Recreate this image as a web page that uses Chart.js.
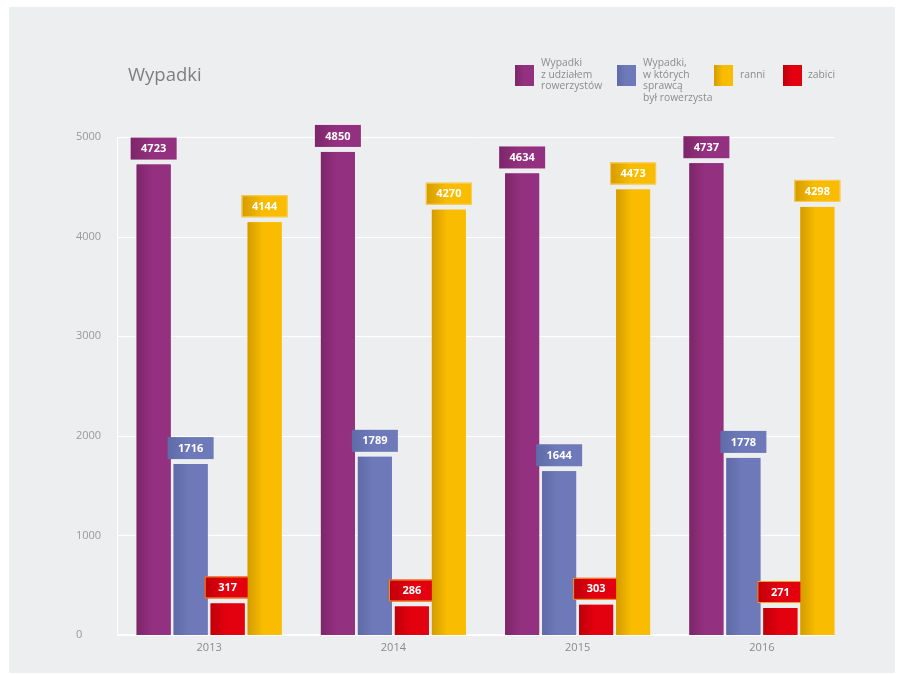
<!DOCTYPE html>
<html>
<head>
<meta charset="utf-8">
<script src="https://cdn.jsdelivr.net/npm/chart.js@4/dist/chart.umd.min.js"></script>
<style>
  body { margin: 0; background: #fff; font-family: "Open Sans", sans-serif; }
  #panel { position: absolute; left: 9px; top: 7px; width: 886px; height: 666px; background: #edeef0; }
  #title { position: absolute; left: 128px; top: 61px; font-size: 18.5px; color: #7f7f7f; line-height: 26px; }
  .sw { position: absolute; top: 65px; width: 19px; height: 21px; }
  .lt { position: absolute; font-size: 10.3px; line-height: 11.7px; color: #8c8c8c; white-space: nowrap; }
</style>
</head>
<body>
<div id="panel"><canvas id="chart" width="886" height="666"></canvas></div>
<div id="title">Wypadki</div>

<div class="sw" style="left:515px;background:linear-gradient(90deg,#7d2669,#93307f 45%)"></div>
<div class="lt" style="left:541px;top:57px">Wypadki<br>z udziałem<br>rowerzystów</div>
<div class="sw" style="left:617px;background:linear-gradient(90deg,#5f6aa8,#6e79b9 45%)"></div>
<div class="lt" style="left:643px;top:57px">Wypadki,<br>w których<br>sprawcą<br>był rowerzysta</div>
<div class="sw" style="left:714px;background:linear-gradient(90deg,#d49c00,#f9bc00 45%)"></div>
<div class="lt" style="left:740px;top:69px">ranni</div>
<div class="sw" style="left:783px;background:linear-gradient(90deg,#be000a,#e3000f 45%)"></div>
<div class="lt" style="left:808px;top:69px">zabici</div>

<script>
const years = ['2013', '2014', '2015', '2016'];
const wypadki = [4723, 4850, 4634, 4737];
const sprawca = [1716, 1789, 1644, 1778];
const zabici = [317, 286, 303, 271];
const ranni = [4144, 4270, 4473, 4298];
const yTicks = [0, 1000, 2000, 3000, 4000, 5000];

// base colour and darker left edge for each series
const shades = [
    { base: '#93307f', dark: '#7d2669', border: null },
    { base: '#6e79b9', dark: '#5f6aa8', border: null },
    { base: '#e3000f', dark: '#be000a', border: '#f2a12a' },
    { base: '#f9bc00', dark: '#d49c00', border: '#f7cf5a' }
];

function hGradient(ctx, left, right, s) {
    const g = ctx.createLinearGradient(left, 0, right, 0);
    g.addColorStop(0, s.dark);
    g.addColorStop(0.45, s.base);
    g.addColorStop(1, s.base);
    return g;
}

const gridPlugin = {
    id: 'whiteGrid',
    beforeDatasetsDraw(chart) {
        const { ctx, chartArea, scales: { y } } = chart;
        const meta = chart.getDatasetMeta(chart.data.datasets.length - 1);
        const last = meta.data[meta.data.length - 1];
        const right = last.x + last.width / 2;
        ctx.save();
        ctx.strokeStyle = '#ffffff';
        y.ticks.forEach(t => {
            const py = Math.round(y.getPixelForValue(t.value));
            ctx.lineWidth = t.value === 0 ? 2 : 1;
            ctx.beginPath();
            ctx.moveTo(chartArea.left, t.value === 0 ? py : py + 0.5);
            ctx.lineTo(right, t.value === 0 ? py : py + 0.5);
            ctx.stroke();
        });
        ctx.restore();
    }
};

const barStyle = {
    id: 'barStyle',
    afterDatasetsDraw(chart) {
        const ctx = chart.ctx;
        ctx.save();
        chart.data.datasets.forEach((ds, i) => {
            const s = shades[i];
            chart.getDatasetMeta(i).data.forEach((bar, j) => {
                const left = bar.x - bar.width / 2;
                const right = bar.x + bar.width / 2;
                ctx.fillStyle = hGradient(ctx, left, right, s);
                ctx.fillRect(left, bar.y, bar.width, bar.base - bar.y);

                // value box above the bar
                const bw = 46, bh = 22;
                const bx = bar.x - bw / 2;
                const by = bar.y - 5 - bh;
                ctx.fillStyle = hGradient(ctx, bx, bx + bw, s);
                ctx.fillRect(bx, by, bw, bh);
                if (s.border) {
                    ctx.strokeStyle = s.border;
                    ctx.lineWidth = 1;
                    ctx.strokeRect(bx + 0.5, by + 0.5, bw - 1, bh - 1);
                }
                ctx.fillStyle = '#ffffff';
                ctx.font = 'bold 11px "Open Sans"';
                ctx.textAlign = 'center';
                ctx.textBaseline = 'middle';
                ctx.fillText(String(ds.data[j]), bar.x, by + bh / 2 + 0.5);
            });
        });
        ctx.restore();
    }
};

new Chart(document.getElementById('chart').getContext('2d'), {
    type: 'bar',
    data: {
        labels: years,
        datasets: [
            { label: 'Wypadki z udziałem rowerzystów', data: wypadki, backgroundColor: shades[0].base },
            { label: 'Wypadki, w których sprawcą był rowerzysta', data: sprawca, backgroundColor: shades[1].base },
            { label: 'zabici', data: zabici, backgroundColor: shades[2].base },
            { label: 'ranni', data: ranni, backgroundColor: shades[3].base }
        ]
    },
    options: {
        responsive: false,
        animation: false,
        categoryPercentage: 0.803,
        barPercentage: 0.919,
        layout: { padding: { left: 67, right: 41, top: 130, bottom: 16 } },
        plugins: {
            legend: { display: false },
            tooltip: { enabled: false }
        },
        scales: {
            x: {
                grid: { display: false, drawTicks: false },
                border: { display: false },
                ticks: { color: '#8a8a8a', font: { family: 'Open Sans', size: 11 }, padding: 6 },
                afterFit(scale) { scale.height = 22; }
            },
            y: {
                min: 0,
                max: 5000,
                afterBuildTicks(scale) { scale.ticks = yTicks.map(v => ({ value: v })); },
                grid: { display: false, drawTicks: false },
                border: { display: true, color: '#ffffff', width: 1 },
                ticks: {
                    color: '#999999',
                    font: { family: 'Open Sans', size: 11 },
                    crossAlign: 'far',
                    padding: 0,
                    callback: v => String(v)
                },
                afterFit(scale) { scale.width = 41; }
            }
        }
    },
    plugins: [gridPlugin, barStyle]
});
</script>
</body>
</html>
